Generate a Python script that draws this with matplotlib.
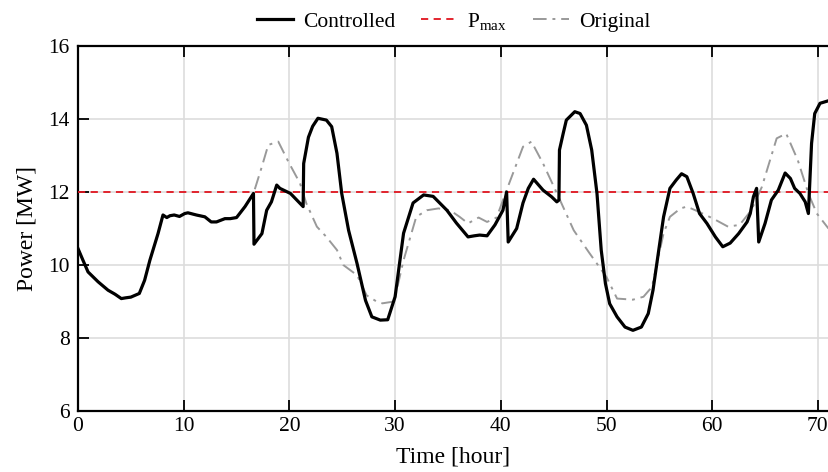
import numpy as np
import matplotlib.pyplot as plt

# part where the original and controlled curves coincide (0 - 16.6 h)
base_t = [0, 0.47, 0.95, 1.9, 2.84, 3.5, 4.1, 4.5, 5.0, 5.8, 6.3, 6.8, 7.57, 8.04,
          8.4, 8.7, 9.1, 9.6, 10.1, 10.4, 11.2, 12.0, 12.6, 13.1, 13.9, 14.4, 15.0,
          15.8, 16.6]
base_p = [10.45, 10.13, 9.81, 9.54, 9.31, 9.2, 9.08, 9.1, 9.12, 9.22, 9.58, 10.13,
          10.86, 11.37, 11.3, 11.35, 11.37, 11.33, 11.41, 11.43, 11.37, 11.32, 11.18,
          11.18, 11.27, 11.27, 11.3, 11.6, 11.96]

# controlled load after 16.6 h
ctrl_t = [16.65, 17.4, 17.85, 18.3, 18.8, 19.1, 20.1, 21.3, 21.35, 21.8, 22.2, 22.7,
          23.5, 24.0, 24.5, 24.95, 25.6, 26.4, 27.2, 27.8, 28.6, 29.3, 30.0, 30.8,
          31.7, 32.7, 33.6, 34.9, 35.8, 36.9, 37.5, 38.0, 38.7, 39.45, 40.2, 40.55,
          40.7, 41.5, 42.1, 42.6, 43.1, 44.0, 44.8, 45.3, 45.5, 45.55, 45.9, 46.2,
          47.0, 47.5, 48.1, 48.6, 49.1, 49.5, 49.9, 50.3, 51.0, 51.75, 52.5, 53.3,
          53.95, 54.4, 54.9, 55.4, 56.0, 56.6, 57.1, 57.6, 58.2, 58.8, 59.5, 60.3,
          61.0, 61.7, 62.5, 63.3, 63.6, 63.9, 64.2, 64.4, 65.0, 65.6, 66.25, 66.9,
          67.4, 67.8, 68.3, 68.8, 69.1, 69.4, 69.7, 70.2, 71.0]
ctrl_p = [10.57, 10.86, 11.5, 11.73, 12.19, 12.1, 11.96, 11.6, 12.78, 13.5, 13.8,
          14.02, 13.97, 13.79, 13.06, 11.96, 10.95, 10.04, 9.03, 8.58, 8.49, 8.5,
          9.13, 10.87, 11.7, 11.92, 11.88, 11.5, 11.15, 10.77, 10.8, 10.82, 10.8,
          11.1, 11.5, 12.0, 10.63, 11.0, 11.7, 12.1, 12.35, 12.05, 11.87, 11.73,
          11.78, 13.15, 13.6, 13.97, 14.2, 14.15, 13.83, 13.15, 11.96, 10.41, 9.49,
          8.94, 8.58, 8.3, 8.21, 8.3, 8.67, 9.31, 10.32, 11.32, 12.1, 12.33, 12.5,
          12.42, 11.96, 11.41, 11.14, 10.77, 10.5, 10.6, 10.86, 11.18, 11.41, 11.87,
          12.1, 10.63, 11.14, 11.78, 12.05, 12.52, 12.37, 12.1, 11.96, 11.73, 11.41,
          13.33, 14.15, 14.43, 14.5]

# original load after 16.6 h
orig_t = [16.7, 17.4, 18.0, 18.95, 19.9, 21.0, 21.6, 22.6, 23.5, 24.5, 25.1, 26.4,
          27.3, 28.3, 28.8, 29.9, 30.8, 32.0, 33.0, 34.1, 35.2, 36.1, 36.9, 37.9,
          38.7, 39.6, 40.55, 42.1, 42.9, 44.0, 45.3, 46.9, 48.4, 50.0, 51.0, 52.5,
          53.5, 54.3, 55.4, 56.0, 57.0, 57.6, 58.8, 60.1, 61.5, 62.6, 63.7, 64.7,
          66.1, 67.0, 68.1, 69.1, 69.9, 71.0]
orig_p = [12.05, 12.7, 13.29, 13.38, 12.83, 12.24, 11.69, 11.05, 10.77, 10.41, 10.0,
          9.72, 9.17, 8.99, 8.95, 9.0, 10.13, 11.32, 11.5, 11.55, 11.5, 11.32, 11.14,
          11.3, 11.18, 11.3, 12.05, 13.24, 13.38, 12.78, 11.97, 10.95, 10.32, 9.67,
          9.08, 9.05, 9.13, 9.4, 10.87, 11.32, 11.55, 11.6, 11.45, 11.27, 11.05, 11.1,
          11.5, 12.14, 13.47, 13.6, 12.87, 11.96, 11.41, 11.0]

p_max = 12

x_ticks = [0, 10, 20, 30, 40, 50, 60, 70]
y_ticks = [6, 8, 10, 12, 14, 16]

plt.rcParams['font.family'] = ['Liberation Serif', 'DejaVu Serif']
plt.rcParams['mathtext.fontset'] = 'custom'
plt.rcParams['mathtext.rm'] = 'Liberation Serif'
plt.rcParams['mathtext.it'] = 'Liberation Serif:italic'

fig = plt.figure(figsize=(8.29, 4.72), dpi=100)
ax = fig.add_axes([78 / 829, 61 / 472, 751 / 829, 365 / 472])

ax.plot(base_t + ctrl_t, base_p + ctrl_p, color='black', lw=2.3, zorder=4,
        label='Controlled')
ax.axhline(p_max, color='#e0141e', lw=1.3, ls=(0, (4, 3)), zorder=3,
           label='P$_{\\rm max}$')
ax.plot(base_t + orig_t, base_p + orig_p, color='#999999', lw=1.4,
        ls=(0, (7, 3, 1.5, 3)), zorder=2, label='Original')

ax.set_xlim(0, 71.05)
ax.set_ylim(6, 16)
ax.set_xticks(x_ticks)
ax.set_yticks(y_ticks)
ax.grid(True, color='#dddddd', lw=1.2)
ax.set_axisbelow(True)

for s in ['left', 'bottom', 'top']:
    ax.spines[s].set_linewidth(1.6)
ax.spines['right'].set_visible(False)
ax.tick_params(direction='in', length=8, width=1.3, labelsize=15.5, top=True,
               pad=6)
ax.tick_params(axis='x', pad=4)

ax.set_xlabel('Time [hour]', fontsize=17, labelpad=8)
ax.set_ylabel('Power [MW]', fontsize=17, labelpad=8)

ax.legend(loc='lower center', bbox_to_anchor=(0.5, 1.0), ncol=3, frameon=False,
          fontsize=15.5, handlelength=1.7, handletextpad=0.45, columnspacing=1.2,
          borderaxespad=0.25)

fig.savefig('out.png', dpi=100)
